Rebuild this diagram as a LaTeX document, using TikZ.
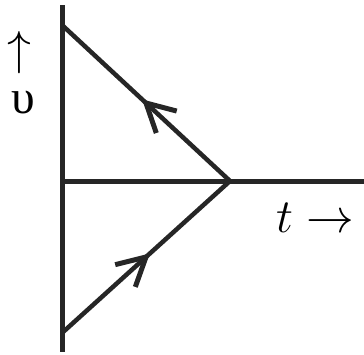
\documentclass[tikz,border=0pt]{standalone}
\usepackage{amsmath}
\usepackage{fontspec}
\newfontfamily\greekserif{Liberation Serif}
\usetikzlibrary{decorations.markings}
\tikzset{
  axis/.style={line width=5pt,color=black!85},
  barb/.style={line width=5pt,color=black!85},
  branch/.style={line width=4.5pt,color=black!85,
    postaction={decorate,decoration={markings,
      mark=at position 0.5 with {\draw[barb] (-28pt,15pt) -- (0pt,0pt) -- (-28pt,-15pt);}}}},
  lbl/.style={font=\huge,scale=2.3,inner sep=0pt}
}
\begin{document}
\begin{tikzpicture}[x=1pt,y=-1pt]
\useasboundingbox (0,0) rectangle (364,354);
% axes: origin at (62,181)
\coordinate (O) at (62,181);
\coordinate (top) at (62,5);
\coordinate (bot) at (62,352);
\coordinate (right) at (364,181);
\coordinate (A) at (62,25);
\coordinate (P) at (230,181);
\coordinate (B) at (62,333);
\draw[axis] (top) -- (bot);
\draw[axis] (O) -- (right);
\draw[branch] (B) -- (P);
\draw[branch] (P) -- (A);
\node[lbl] (vup) at (19,53) {$\uparrow$};
\node[lbl] (v) at (23,103) {\greekserif υ};
\node[lbl] (t) at (315,218) {$t\rightarrow$};
\end{tikzpicture}
\end{document}
